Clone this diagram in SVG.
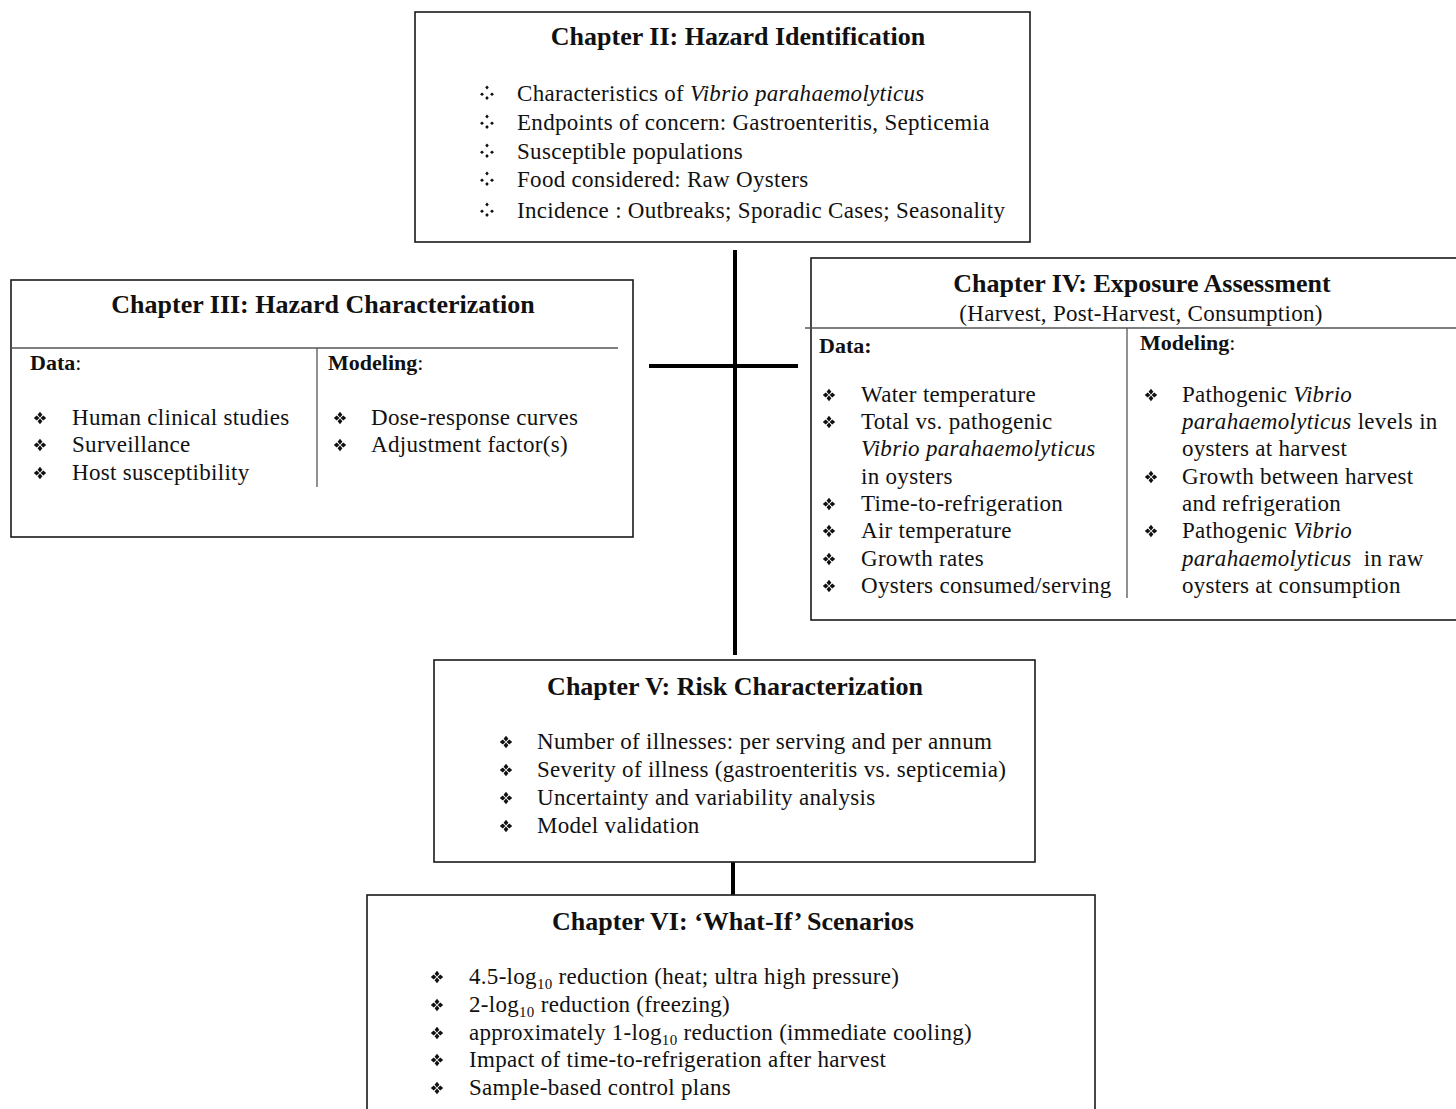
<svg xmlns="http://www.w3.org/2000/svg" width="1456" height="1109" viewBox="0 0 1456 1109">
  <style>
    .box { fill: #ffffff; stroke: #1a1a1a; stroke-width: 1.6; }
    .div { stroke: #555555; stroke-width: 1.3; fill: none; }
    .conn { stroke: #000000; stroke-width: 4; fill: none; }
    text { font-family: "Liberation Serif", "Times New Roman", serif; fill: #111111; }
    .title { font-size: 26px; font-weight: bold; text-anchor: middle; }
    .sub { font-size: 23px; text-anchor: middle; letter-spacing: 0.3px; }
    .lbl { font-size: 22px; font-weight: bold; }
    .item { font-size: 23px; letter-spacing: 0.3px; }
    .it { font-style: italic; }
    .nb { font-weight: normal; }
    .sb { font-size: 15px; }
    .bk { fill: #111111; }
  </style>
  <defs>
    <!-- four-petal diamond bullet -->
    <g id="b1" class="bk">
      <path d="M0,-6.2 L2.4,-3.3 L0,-0.6 L-2.4,-3.3Z M6.2,0 L3.3,2.4 L0.6,0 L3.3,-2.4Z M0,6.2 L2.4,3.3 L0,0.6 L-2.4,3.3Z M-6.2,0 L-3.3,2.4 L-0.6,0 L-3.3,-2.4Z"/>
    </g>
    <!-- four-dot bullet -->
    <g id="b2" class="bk">
      <path d="M0,-7 L1.8,-5 L0,-3 L-1.8,-5Z M5,0 L7,1.8 L5,3.6 L3,1.8Z M0,3.4 L1.8,5.4 L0,7.4 L-1.8,5.4Z M-5,0 L-3,1.8 L-5,3.6 L-7,1.8Z" transform="translate(0,-0.5)"/>
    </g>
  </defs>

  <!-- connectors -->
  <g id="connectors">
    <line class="conn" x1="735" y1="250" x2="735" y2="655"/>
    <line class="conn" x1="649" y1="366" x2="798" y2="366"/>
    <line class="conn" x1="733" y1="862" x2="733" y2="895"/>
  </g>

  <!-- Chapter II -->
  <g id="ch2">
    <rect class="box" x="415" y="12" width="615" height="230"/>
    <text class="title" x="738" y="45">Chapter II: Hazard Identification</text>
    <use href="#b2" x="487" y="93"/>
    <use href="#b2" x="487" y="122"/>
    <use href="#b2" x="487" y="151"/>
    <use href="#b2" x="487" y="179"/>
    <use href="#b2" x="487" y="210"/>
    <text class="item" x="517" y="101">Characteristics of <tspan class="it">Vibrio parahaemolyticus</tspan></text>
    <text class="item" x="517" y="130">Endpoints of concern: Gastroenteritis, Septicemia</text>
    <text class="item" x="517" y="159">Susceptible populations</text>
    <text class="item" x="517" y="187">Food considered: Raw Oysters</text>
    <text class="item" x="517" y="218">Incidence : Outbreaks; Sporadic Cases; Seasonality</text>
  </g>

  <!-- Chapter III -->
  <g id="ch3">
    <rect class="box" x="11" y="280" width="622" height="257"/>
    <line class="div" x1="11" y1="348" x2="618" y2="348"/>
    <line class="div" x1="317" y1="348" x2="317" y2="487"/>
    <text class="title" x="323" y="313">Chapter III: Hazard Characterization</text>
    <text class="lbl" x="30" y="370">Data<tspan class="nb">:</tspan></text>
    <text class="lbl" x="328" y="370">Modeling<tspan class="nb">:</tspan></text>
    <use href="#b1" x="40" y="418"/>
    <use href="#b1" x="40" y="445"/>
    <use href="#b1" x="40" y="473"/>
    <text class="item" x="72" y="425">Human clinical studies</text>
    <text class="item" x="72" y="452">Surveillance</text>
    <text class="item" x="72" y="480">Host susceptibility</text>
    <use href="#b1" x="340" y="418"/>
    <use href="#b1" x="340" y="445"/>
    <text class="item" x="371" y="425">Dose-response curves</text>
    <text class="item" x="371" y="452">Adjustment factor(s)</text>
  </g>

  <!-- Chapter IV -->
  <g id="ch4">
    <rect class="box" x="811" y="258" width="660" height="362"/>
    <line class="div" x1="805" y1="328" x2="1456" y2="328"/>
    <line class="div" x1="1127" y1="328" x2="1127" y2="598"/>
    <text class="title" x="1142" y="292">Chapter IV: Exposure Assessment</text>
    <text class="sub" x="1141" y="321">(Harvest, Post-Harvest, Consumption)</text>
    <text class="lbl" x="819" y="353">Data:</text>
    <text class="lbl" x="1140" y="350">Modeling<tspan class="nb">:</tspan></text>
    <use href="#b1" x="829" y="395"/>
    <use href="#b1" x="829" y="422"/>
    <use href="#b1" x="829" y="504"/>
    <use href="#b1" x="829" y="531"/>
    <use href="#b1" x="829" y="559"/>
    <use href="#b1" x="829" y="586"/>
    <text class="item" x="861" y="402">Water temperature</text>
    <text class="item" x="861" y="429">Total vs. pathogenic</text>
    <text class="item it" x="861" y="456">Vibrio parahaemolyticus</text>
    <text class="item" x="861" y="484">in oysters</text>
    <text class="item" x="861" y="511">Time-to-refrigeration</text>
    <text class="item" x="861" y="538">Air temperature</text>
    <text class="item" x="861" y="566">Growth rates</text>
    <text class="item" x="861" y="593">Oysters consumed/serving</text>
    <use href="#b1" x="1151" y="395"/>
    <use href="#b1" x="1151" y="477"/>
    <use href="#b1" x="1151" y="531"/>
    <text class="item" x="1182" y="402">Pathogenic <tspan class="it">Vibrio</tspan></text>
    <text class="item" x="1182" y="429"><tspan class="it">parahaemolyticus</tspan> levels in</text>
    <text class="item" x="1182" y="456">oysters at harvest</text>
    <text class="item" x="1182" y="484">Growth between harvest</text>
    <text class="item" x="1182" y="511">and refrigeration</text>
    <text class="item" x="1182" y="538">Pathogenic <tspan class="it">Vibrio</tspan></text>
    <text class="item" x="1182" y="566" xml:space="preserve"><tspan class="it">parahaemolyticus</tspan>  in raw</text>
    <text class="item" x="1182" y="593">oysters at consumption</text>
  </g>

  <!-- Chapter V -->
  <g id="ch5">
    <rect class="box" x="434" y="660" width="601" height="202"/>
    <text class="title" x="735" y="695">Chapter V: Risk Characterization</text>
    <use href="#b1" x="506" y="742"/>
    <use href="#b1" x="506" y="770"/>
    <use href="#b1" x="506" y="798"/>
    <use href="#b1" x="506" y="826"/>
    <text class="item" x="537" y="749">Number of illnesses: per serving and per annum</text>
    <text class="item" x="537" y="777">Severity of illness (gastroenteritis vs. septicemia)</text>
    <text class="item" x="537" y="805">Uncertainty and variability analysis</text>
    <text class="item" x="537" y="833">Model validation</text>
  </g>

  <!-- Chapter VI -->
  <g id="ch6">
    <rect class="box" x="367" y="895" width="728" height="230"/>
    <text class="title" x="733" y="930">Chapter VI: ‘What-If’ Scenarios</text>
    <use href="#b1" x="437" y="977"/>
    <use href="#b1" x="437" y="1005"/>
    <use href="#b1" x="437" y="1033"/>
    <use href="#b1" x="437" y="1060"/>
    <use href="#b1" x="437" y="1088"/>
    <text class="item" x="469" y="984">4.5-log<tspan class="sb" dy="5">10</tspan><tspan dy="-5"> reduction (heat; ultra high pressure)</tspan></text>
    <text class="item" x="469" y="1012">2-log<tspan class="sb" dy="5">10</tspan><tspan dy="-5"> reduction (freezing)</tspan></text>
    <text class="item" x="469" y="1040">approximately 1-log<tspan class="sb" dy="5">10</tspan><tspan dy="-5"> reduction (immediate cooling)</tspan></text>
    <text class="item" x="469" y="1067">Impact of time-to-refrigeration after harvest</text>
    <text class="item" x="469" y="1095">Sample-based control plans</text>
  </g>
</svg>
